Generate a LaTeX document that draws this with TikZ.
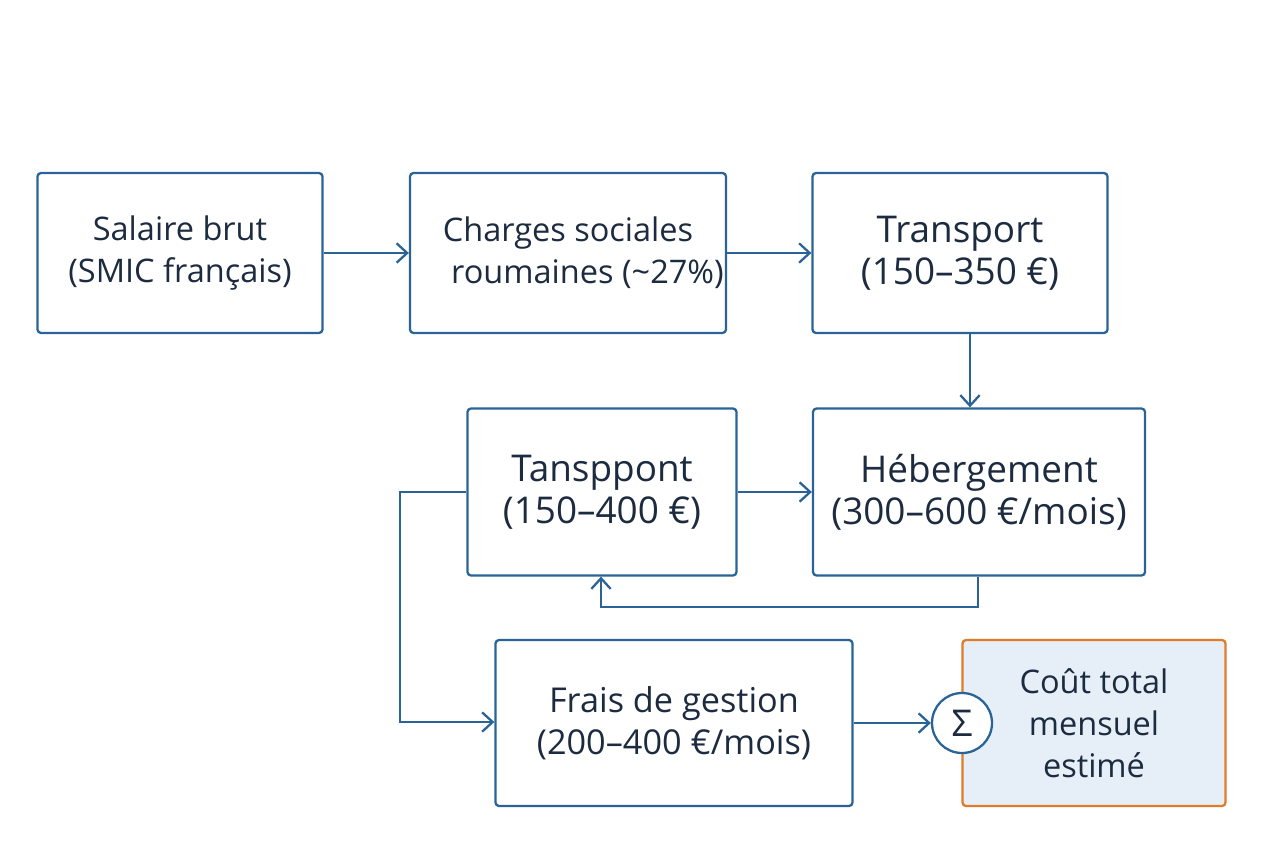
\documentclass[tikz,border=0pt]{standalone}
\usepackage{fontspec}
\setmainfont{Open Sans}
\usetikzlibrary{arrows.meta}
\definecolor{lineblue}{HTML}{2A6496}
\definecolor{textnavy}{HTML}{1C2B3F}
\definecolor{totalfill}{HTML}{E6EFF7}
\definecolor{totaledge}{HTML}{E07B2A}
\newcommand{\bigtext}{\fontsize{21}{27}\selectfont}
\begin{document}
\begin{tikzpicture}[x=0.02cm,y=-0.02cm,
		every node/.style={align=center, text=textnavy,
			font=\fontsize{18.5}{24}\selectfont},
		box/.style={draw=lineblue, line width=1.3pt, rounded corners=2pt},
		flow/.style={draw=lineblue, line width=1.3pt, -{Straight Barb[length=6pt,width=11pt]}},
		]
		\useasboundingbox (0,0) rectangle (1264,848);

		\node (salaire) [box, minimum width=285*0.02cm, minimum height=160*0.02cm] at (180,253) {Salaire brut\\(SMIC français)};
		\node (charges) [box, inner xsep=0pt, minimum width=316*0.02cm, minimum height=160*0.02cm] at (568,253) {Charges sociales\\\hspace*{1.2em}roumaines (\textasciitilde27\%)};
		\node (transport) [box, minimum width=295*0.02cm, minimum height=160*0.02cm] at (960,253) {\bigtext Transport\\\bigtext(150–350 €)};
		\node (tansppont) [box, minimum width=269*0.02cm, minimum height=167*0.02cm] at (602,492) {\bigtext Tansppont\\\bigtext(150–400 €)};
		\node (hebergement) [box, minimum width=332*0.02cm, minimum height=167*0.02cm] at (979,492) {\bigtext Hébergement\\\bigtext(300–600 €/mois)};
		\node (frais) [box, minimum width=357*0.02cm, minimum height=166*0.02cm] at (674,723) {\fontsize{19.5}{27}\selectfont Frais de gestion\\\fontsize{19.5}{27}\selectfont(200–400 €/mois)};
		\node (total) [box, draw=totaledge, fill=totalfill, minimum width=263*0.02cm, minimum height=166*0.02cm] at (1094,723) {Coût total\\mensuel\\estimé};
		\node (somme) [circle, draw=lineblue, line width=1.3pt, fill=white, minimum size=60*0.02cm, inner sep=0pt] at (962,723) {\bigtext Σ};

		\draw[flow] (salaire) -- (charges);
		\draw[flow] (charges) -- (transport);
		\draw[flow] (transport.south -| 970,0) -- (hebergement.north -| 970,0);
		\draw[flow] (tansppont) -- (hebergement);
		\draw[flow] (hebergement.south -| 978,0) -- (978,607) -- (601,607) -- (tansppont.south -| 601,0);
		\draw[flow] (tansppont.west) -- (400,492) -- (400,722) -- (frais.west |- 0,722);
		\draw[flow] (frais) -- (somme);
	\end{tikzpicture}
\end{document}
